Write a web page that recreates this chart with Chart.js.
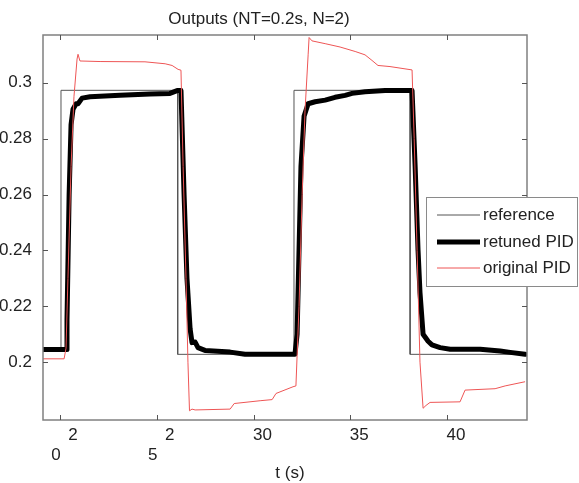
<!DOCTYPE html>
<html lang="en">
<head>
<meta charset="UTF-8">
<title>Outputs (NT=0.2s, N=2)</title>
<script src="https://cdn.jsdelivr.net/npm/chart.js"></script>
<style>
  html, body { margin: 0; padding: 0; background: #fff; }
  canvas { display: block; }
</style>
</head>
<body>
<canvas id="chart" width="579" height="483"></canvas>
<script>
// reference square wave
const refT = [19.12, 20.05, 20.05, 26.08, 26.08, 32.09, 32.09, 38.09, 38.09, 44.13];
const refY = [0.2045, 0.2045, 0.2973, 0.2973, 0.2028, 0.2028, 0.2973, 0.2973, 0.2028, 0.2028];

// retuned PID response (thick black)
const retunedT = [19.12, 20.31, 20.36, 20.47, 20.57, 20.67, 20.83, 20.93, 21.14, 21.55, 23.10, 24.65, 25.68, 26.05, 26.25,
  26.41, 26.56, 26.72, 26.82, 26.98, 27.13, 27.49, 28.79, 29.56, 32.14, 32.25, 32.35, 32.45, 32.61, 32.82, 33.18,
  33.70, 34.21, 34.73, 35.09, 35.76, 36.80, 38.19, 38.35, 38.50, 38.60, 38.76, 39.02, 39.22, 39.64, 40.16, 41.71,
  42.74, 43.26, 44.03];
const retunedY = [0.2045, 0.2045, 0.215, 0.26, 0.285, 0.2905, 0.2925, 0.2925, 0.2945, 0.2950, 0.2955, 0.2960, 0.2962, 0.2972, 0.2972,
  0.26, 0.23, 0.212, 0.207, 0.2072, 0.2052, 0.2042, 0.2036, 0.2028, 0.2028, 0.21, 0.24, 0.27, 0.288, 0.2925, 0.2932,
  0.2938, 0.2948, 0.2955, 0.2962, 0.2968, 0.2972, 0.2972, 0.27, 0.24, 0.225, 0.210, 0.2075, 0.2062, 0.2052, 0.2046, 0.2046,
  0.2040, 0.2035, 0.2028];

// original PID response (thin red)
const originalT = [19.12, 20.21, 20.31, 20.41, 20.57, 20.72, 20.88, 20.93, 21.03, 22.07, 24.39, 25.43, 25.79, 26.10, 26.25,
  26.36, 26.51, 26.61, 26.69, 26.82, 26.98, 28.79, 29.00, 30.34, 30.96, 31.16, 32.04, 32.19, 32.35, 32.51, 32.66,
  32.82, 32.87, 33.02, 33.70, 34.47, 35.25, 35.76, 36.12, 36.43, 37.05, 38.19, 38.30, 38.45, 38.60, 38.76, 38.91,
  39.12, 40.67, 40.93, 42.48, 43.00, 44.03];
const originalY = [0.2012, 0.2012, 0.205, 0.23, 0.27, 0.295, 0.3085, 0.3102, 0.3078, 0.3076, 0.3075, 0.3068, 0.3062, 0.3048, 0.3045,
  0.27, 0.23, 0.20, 0.1826, 0.1832, 0.1829, 0.1832, 0.1852, 0.1862, 0.1866, 0.1888, 0.1912, 0.1915, 0.22, 0.26, 0.29,
  0.31, 0.3162, 0.3150, 0.3140, 0.3128, 0.3112, 0.3100, 0.3080, 0.3062, 0.3058, 0.3046, 0.28, 0.24, 0.20, 0.1835, 0.1845,
  0.1856, 0.1858, 0.1900, 0.1905, 0.1915, 0.1930];

const xTicks = [20, 25, 30, 35, 40];
const xTickLabels = [['2', '0'], ['2', '5'], ['30'], ['35'], ['40']];
const yTicks = [0.2, 0.22, 0.24, 0.26, 0.28, 0.3];
const yTickLabels = ['0.2', '0.22', '0.24', '0.26', '0.28', '0.3'];

const seriesNames = ['reference', 'retuned PID', 'original PID'];
const titleText = 'Outputs (NT=0.2s, N=2)';
const xTitle = 't (s)';

const FONT = '17px "Liberation Sans", Arial, sans-serif';

function pts(ts, ys) {
  return ts.map((t, i) => ({ x: t, y: ys[i] }));
}

// frame, inward ticks, x labels, titles and legend, drawn matlab-style
const decorations = {
  id: 'decorations',
  afterDraw(chart) {
    const { ctx, chartArea: a, scales: { x, y } } = chart;
    ctx.save();

    ctx.strokeStyle = '#808080';
    ctx.lineWidth = 1.5;
    ctx.strokeRect(a.left, a.top, a.right - a.left, a.bottom - a.top);

    ctx.strokeStyle = '#555';
    ctx.lineWidth = 1;
    ctx.beginPath();
    xTicks.forEach(v => {
      const px = Math.round(x.getPixelForValue(v)) + 0.5;
      ctx.moveTo(px, a.bottom); ctx.lineTo(px, a.bottom - 5);
      ctx.moveTo(px, a.top); ctx.lineTo(px, a.top + 5);
    });
    yTicks.forEach(v => {
      const py = Math.round(y.getPixelForValue(v)) + 0.5;
      ctx.moveTo(a.left, py); ctx.lineTo(a.left + 5, py);
      ctx.moveTo(a.right, py); ctx.lineTo(a.right - 5, py);
    });
    ctx.stroke();

    ctx.fillStyle = '#222';
    ctx.font = FONT;
    ctx.textAlign = 'center';
    ctx.textBaseline = 'middle';
    xTicks.forEach((v, i) => {
      const px = x.getPixelForValue(v);
      const lines = xTickLabels[i];
      if (lines.length === 2) {
        ctx.fillText(lines[0], px + 13, a.bottom + 15);
        ctx.fillText(lines[1], px - 4, a.bottom + 35);
      } else {
        ctx.fillText(lines[0], px + 9, a.bottom + 15);
      }
    });
    ctx.fillText(xTitle, 290, 473);
    ctx.fillText(titleText, 259, 19);

    // legend box
    const lx = 426, ly = 197, lw = 152, lh = 90;
    ctx.fillStyle = '#fff';
    ctx.fillRect(lx, ly, lw, lh);
    ctx.strokeStyle = '#8a8a8a';
    ctx.lineWidth = 1;
    ctx.strokeRect(lx + 0.5, ly + 0.5, lw - 1, lh - 1);
    const rows = [215, 242, 268];
    chart.data.datasets.forEach(ds => {
      const i = seriesNames.indexOf(ds.label);
      ctx.strokeStyle = ds.borderColor;
      ctx.lineWidth = ds.borderWidth;
      ctx.beginPath();
      ctx.moveTo(437, rows[i]);
      ctx.lineTo(480, rows[i]);
      ctx.stroke();
      ctx.fillStyle = '#222';
      ctx.textAlign = 'left';
      ctx.fillText(ds.label, 483, rows[i]);
    });
    ctx.restore();
  }
};

new Chart(document.getElementById('chart'), {
  type: 'scatter',
  data: {
    datasets: [
      {
        label: seriesNames[0],
        data: pts(refT, refY),
        showLine: true,
        borderColor: '#555555',
        borderWidth: 1,
        pointRadius: 0,
        order: 2
      },
      {
        label: seriesNames[1],
        data: pts(retunedT, retunedY),
        showLine: true,
        borderColor: '#000000',
        borderWidth: 5,
        borderJoinStyle: 'round',
        borderCapStyle: 'round',
        pointRadius: 0,
        order: 1
      },
      {
        label: seriesNames[2],
        data: pts(originalT, originalY),
        showLine: true,
        borderColor: '#ee5555',
        borderWidth: 1,
        pointRadius: 0,
        order: 0
      }
    ]
  },
  options: {
    responsive: false,
    animation: false,
    events: [],
    layout: { padding: { top: 35, right: 52, bottom: 0, left: 0 } },
    plugins: {
      legend: { display: false },
      title: { display: false },
      tooltip: { enabled: false }
    },
    scales: {
      x: {
        type: 'linear',
        min: 19.12,
        max: 44.13,
        grid: { display: false },
        border: { display: false },
        ticks: { display: false },
        afterBuildTicks: s => { s.ticks = xTicks.map(v => ({ value: v })); },
        afterFit: s => { s.height = 63; }
      },
      y: {
        type: 'linear',
        min: 0.1793,
        max: 0.3171,
        grid: { display: false },
        border: { display: false },
        afterBuildTicks: s => { s.ticks = yTicks.map(v => ({ value: v })); },
        ticks: {
          padding: 3,
          color: '#222',
          font: { family: '"Liberation Sans", Arial, sans-serif', size: 17 },
          callback: (v, i) => yTickLabels[i]
        },
        afterFit: s => { s.width = 43; }
      }
    }
  },
  plugins: [decorations]
});
</script>
</body>
</html>
